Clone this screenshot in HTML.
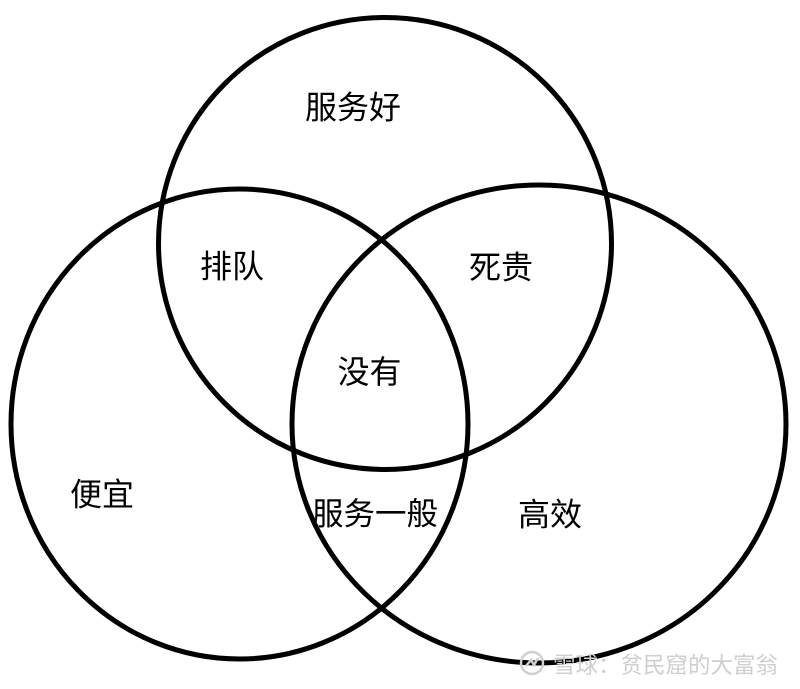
<!DOCTYPE html>
<html>
<head>
<meta charset="utf-8">
<style>
html,body{margin:0;padding:0;background:#fff;width:800px;height:689px;overflow:hidden}
svg{display:block}
text{font-family:"Liberation Sans","Noto Sans CJK SC",sans-serif;font-size:32px;fill:#000}
.w{font-size:22.5px;fill:#cfcfcf}
</style>
</head>
<body>
<svg width="800" height="689" viewBox="0 0 800 689" xmlns="http://www.w3.org/2000/svg">
<rect width="800" height="689" fill="#fff"/>
<g fill="none" stroke="#000" stroke-width="5">
<ellipse cx="385" cy="243.5" rx="226.5" ry="226"/>
<ellipse cx="239.5" cy="424" rx="228.5" ry="235"/>
<ellipse cx="539" cy="424" rx="247" ry="239"/>
</g>
<text x="305" y="118.500">服务好</text>
<text x="200" y="277.500">排队</text>
<text x="469" y="278.500">死贵</text>
<text x="337.500" y="383">没有</text>
<text x="70" y="505.500">便宜</text>
<text x="312" y="524.500" style="font-size:31.500px">服务一般</text>
<text x="518" y="525.500">高效</text>
<circle cx="532" cy="663" r="11" fill="none" stroke="#d0d0d0" stroke-width="2.500"/>
<path d="M526 666l5-6 3 5 4-7" fill="none" stroke="#d0d0d0" stroke-width="2.500"/>
<text class="w" x="553" y="673">雪球：贫民窟的大富翁</text>
</svg>
</body>
</html>
